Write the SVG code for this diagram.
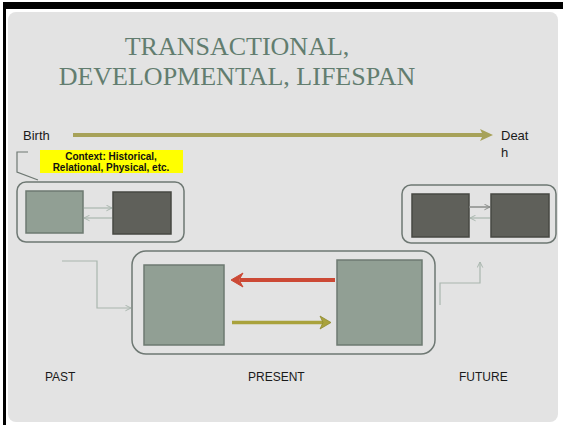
<svg xmlns="http://www.w3.org/2000/svg" width="563" height="425" viewBox="0 0 563 425">
<defs>
<style>
.lbl{font-family:"Liberation Sans",Arial,sans-serif;font-size:12px;fill:#1a1a1a}
.title{font-family:"Liberation Serif","Times New Roman",serif;font-size:26px;fill:#627d6f;text-anchor:middle}
.ctx{font-family:"Liberation Sans",Arial,sans-serif;font-size:10px;font-weight:bold;fill:#111;text-anchor:middle}
.outer{fill:none;stroke:#6e7873;stroke-width:1.5}
.light{fill:#919f94;stroke:#6d7a71;stroke-width:1.5}
.dark{fill:#5f605a;stroke:#474843;stroke-width:1.5}
.thin{fill:none;stroke:#a9b6ae;stroke-width:1.2}
</style>
<marker id="ah" viewBox="0 0 10 10" refX="9" refY="5" markerWidth="7" markerHeight="7" markerUnits="userSpaceOnUse" orient="auto">
<path d="M1,1 L9,5 L1,9" fill="none" stroke="#a9b6ae" stroke-width="1.4"/>
</marker>
<marker id="ahd" viewBox="0 0 10 10" refX="9" refY="5" markerWidth="7" markerHeight="7" markerUnits="userSpaceOnUse" orient="auto">
<path d="M1,1 L9,5 L1,9" fill="none" stroke="#8a8d8a" stroke-width="1.4"/>
</marker>
</defs>
<rect x="0" y="0" width="563" height="425" fill="#ffffff"/>
<rect x="3" y="2" width="560" height="7" fill="#000"/>
<rect x="3" y="2" width="3" height="423" fill="#000"/>
<rect x="8" y="12" width="550" height="410" rx="8" fill="#e3e3e3"/>

<g id="title">
<text class="title" x="237" y="55">TRANSACTIONAL,</text>
<text class="title" x="237" y="85">DEVELOPMENTAL, LIFESPAN</text>
</g>

<g id="lifeline">
<text class="lbl" x="23" y="140" style="font-size:13px">Birth</text>
<line x1="73" y1="135" x2="484" y2="135" stroke="#a7a259" stroke-width="4"/>
<path d="M480,129 L493,135 L480,141 L483,135 Z" fill="#a7a259"/>
<text class="lbl" x="501" y="140" style="font-size:13px">Deat</text>
<text class="lbl" x="501" y="157" style="font-size:13px">h</text>
</g>

<g id="context">
<rect x="40" y="150" width="143" height="23" fill="#ffff00"/>
<text class="ctx" x="111" y="160">Context: Historical,</text>
<text class="ctx" x="111" y="171">Relational, Physical, etc.</text>
<path d="M28,152 L17,152 L17,172 L38,180" fill="none" stroke="#6e7873" stroke-width="1.2"/>
</g>

<g id="past-group">
<rect class="outer" x="17" y="182" width="167" height="60" rx="9"/>
<rect id="past-a" class="light" x="26" y="191" width="57" height="42"/>
<rect id="past-b" class="dark" x="113" y="192" width="58" height="42"/>
</g>

<g id="future-group">
<rect class="outer" x="402" y="185" width="154" height="58" rx="9"/>
<rect id="future-a" class="dark" x="412" y="194" width="57" height="43"/>
<rect id="future-b" class="dark" x="491" y="194" width="58" height="43"/>
</g>

<g id="present-group">
<rect class="outer" x="132" y="251" width="303" height="103" rx="14"/>
<rect id="present-a" class="light" x="144" y="265" width="80" height="80"/>
<rect id="present-b" class="light" x="337" y="260" width="85" height="85"/>
</g>

<g id="connectors">
<line class="thin" x1="84" y1="208" x2="112" y2="208" marker-end="url(#ah)"/>
<line class="thin" x1="112" y1="218" x2="84" y2="218" marker-end="url(#ah)"/>
<line x1="469" y1="207" x2="490" y2="207" fill="none" stroke="#8a8d8a" stroke-width="1.5" marker-end="url(#ahd)"/>
<line class="thin" x1="490" y1="218" x2="470" y2="218" marker-end="url(#ah)"/>
<path class="thin" d="M62,261 L97,261 L97,308 L131,308" marker-end="url(#ah)"/>
<path class="thin" d="M440,305 L440,283 L480,283 L480,262" marker-end="url(#ah)"/>
<line x1="335" y1="280" x2="240" y2="280" stroke="#cc4935" stroke-width="4"/>
<path d="M231,280 L243,273 L239,280 L243,287 Z" fill="#cc4935" stroke="#cc4935" stroke-width="1"/>
<line x1="232" y1="322.5" x2="323" y2="322.5" stroke="#a9a23c" stroke-width="3.5"/>
<path d="M331,322.5 L320,316 L323,322.5 L320,329 Z" fill="#a9a23c" stroke="#8f8a2e" stroke-width="0.8"/>
</g>

<g id="labels">
<text class="lbl" x="45" y="381">PAST</text>
<text class="lbl" x="248" y="381">PRESENT</text>
<text class="lbl" x="459" y="381">FUTURE</text>
</g>
</svg>
